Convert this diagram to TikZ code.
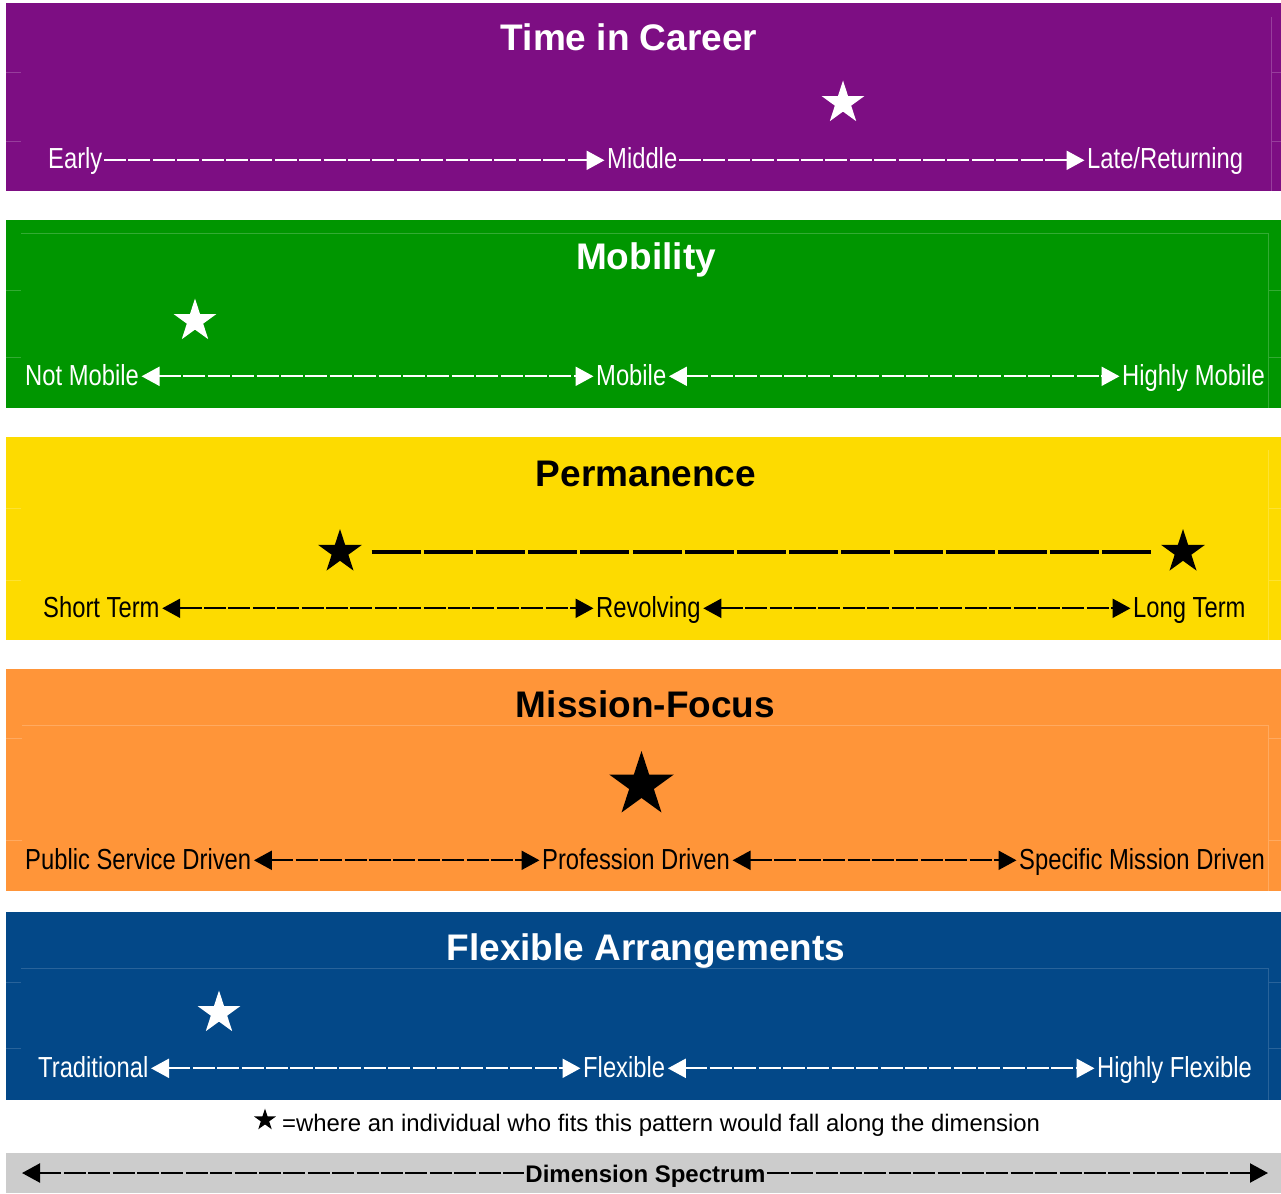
\documentclass[tikz,border=0pt]{standalone}
\usepackage{fontspec}
\setmainfont{Liberation Sans}
\newfontfamily\narrowfont[FakeStretch=0.82]{Liberation Sans}
\usetikzlibrary{shapes.geometric,arrows.meta}
\definecolor{cpurple}{RGB}{125,14,131}
\definecolor{cgreen}{RGB}{0,150,0}
\definecolor{cyellow}{RGB}{253,219,0}
\definecolor{corange}{RGB}{255,149,57}
\definecolor{cblue}{RGB}{3,72,136}
\definecolor{cgrey}{RGB}{204,204,204}
\begin{document}
\begin{tikzpicture}[x=1pt,y=-1pt,
  >={Triangle[length=18pt,width=19pt]},
  bandtitle/.style={font=\bfseries\fontsize{37}{37}\selectfont, inner sep=0pt, anchor=base},
  lbl/.style={font=\narrowfont\fontsize{29}{29}\selectfont, inner sep=0pt, anchor=base west, text height=22pt, text depth=4.6pt},
  dimline/.style={line width=2.2pt, dash pattern=on 22pt off 2.4pt, shorten <=1.5pt, shorten >=2.5pt},
  starmark/.style={star, star points=5, star point ratio=2.618, inner sep=0pt, draw=none},
  faint/.style={line width=0.8pt}
]
\useasboundingbox (0,0) rectangle (1281,1193);

% ---------- bands ----------
\fill[cpurple] (6,3) rectangle (1281,191);
\fill[cgreen]  (6,220) rectangle (1281,408);
\fill[cyellow] (6,437) rectangle (1281,640);
\fill[corange] (6,669) rectangle (1281,891);
\fill[cblue]   (6,912) rectangle (1281,1100);
\fill[cgrey]   (6,1153) rectangle (1281,1193);

% ---------- faint table lines ----------
\begin{scope}[faint]
\draw[cpurple!80!white] (6,72) -- (21,72) (6,141) -- (21,141) (1271,17) -- (1271,191) (1271,72) -- (1281,72) (1271,141) -- (1281,141);
\draw[cgreen!80!white] (21,233) -- (1268,233) (6,290) -- (21,290) (6,357) -- (21,357) (1268,233) -- (1268,408) (1268,290) -- (1281,290) (1268,357) -- (1281,357);
\draw[cyellow!80!white] (6,508) -- (21,508) (6,580) -- (21,580) (1268,450) -- (1268,640) (1268,508) -- (1281,508) (1268,580) -- (1281,580);
\draw[corange!80!white] (22,725) -- (1268,725) (6,738) -- (22,738) (6,840) -- (22,840) (1268,725) -- (1268,891) (1268,738) -- (1281,738) (1268,840) -- (1281,840);
\draw[cblue!85!white] (21,968) -- (1268,968) (6,982) -- (21,982) (6,1048) -- (21,1048) (1268,968) -- (1268,1100) (1268,982) -- (1281,982) (1268,1048) -- (1281,1048);
\end{scope}

% ---------- Time in Career ----------
\node[bandtitle, text=white] (t1) at (629,51) {Time in Career};
\node[starmark, fill=white, minimum size=45pt] (s1) at (843,103) {};
\node[lbl, text=white] (early) at (48,169) {Early};
\node[lbl, text=white] (middle) at (607,169) {Middle};
\node[lbl, text=white] (late) at (1087,169) {Late/Returning};
\draw[dimline, white, ->] (early.east) -- (middle.west);
\draw[dimline, white, ->] (middle.east) -- (late.west);

% ---------- Mobility ----------
\node[bandtitle, text=white] (t2) at (646,269) {Mobility};
\node[starmark, fill=white, minimum size=45pt] (s2) at (195,321) {};
\node[lbl, text=white] (notmob) at (25,385) {Not Mobile};
\node[lbl, text=white] (mob) at (596,385) {Mobile};
\node[lbl, text=white] (highmob) at (1122,385) {Highly Mobile};
\draw[dimline, white, <->, shorten <=2.5pt] (notmob.east) -- (mob.west);
\draw[dimline, white, <->, shorten <=2.5pt] (mob.east) -- (highmob.west);

% ---------- Permanence ----------
\node[bandtitle, text=black] (t3) at (646,486) {Permanence};
\node[starmark, fill=black, minimum size=46pt] (s3a) at (340,552) {};
\node[starmark, fill=black, minimum size=46pt] (s3b) at (1183,552) {};
\path (s3a.center) ++(31.5,0) coordinate (h1);
\path (s3b.center) ++(-31.5,0) coordinate (h2);
\draw[line width=4pt, dash pattern=on 49pt off 3.2pt] (h1) -- (h2);
\node[lbl, text=black] (short) at (43,617) {Short Term};
\node[lbl, text=black] (revolv) at (596,617) {Revolving};
\node[lbl, text=black] (longt) at (1133,617) {Long Term};
\draw[dimline, black, <->, shorten <=2.5pt] (short.east) -- (revolv.west);
\draw[dimline, black, <->, shorten <=2.5pt] (revolv.east) -- (longt.west);

% ---------- Mission-Focus ----------
\node[bandtitle, text=black] (t4) at (645.5,717) {Mission-Focus};
\node[starmark, fill=black, minimum size=68pt] (s4) at (641.5,785) {};
\node[lbl, text=black] (public) at (25,869) {Public Service Driven};
\node[lbl, text=black] (prof) at (542,869) {Profession Driven};
\node[lbl, text=black] (specific) at (1019,869) {Specific Mission Driven};
\draw[dimline, black, <->, shorten <=2.5pt] (public.east) -- (prof.west);
\draw[dimline, black, <->, shorten <=2.5pt] (prof.east) -- (specific.west);

% ---------- Flexible Arrangements ----------
\node[bandtitle, text=white] (t5) at (646,960) {Flexible Arrangements};
\node[starmark, fill=white, minimum size=45pt] (s5) at (219,1013) {};
\node[lbl, text=white] (trad) at (38,1077) {Traditional};
\node[lbl, text=white] (flex) at (583,1077) {Flexible};
\node[lbl, text=white] (highflex) at (1097,1077) {Highly Flexible};
\draw[dimline, white, <->, shorten <=2.5pt] (trad.east) -- (flex.west);
\draw[dimline, white, <->, shorten <=2.5pt] (flex.east) -- (highflex.west);

% ---------- legend ----------
\node[starmark, fill=black, minimum size=23pt] (legstar) at (265,1120) {};
\node[font=\fontsize{23.9}{23.9}\selectfont, inner sep=0pt, anchor=base west] (legtext) at (282,1131) {=where an individual who fits this pattern would fall along the dimension};

% ---------- spectrum bar ----------
\node[font=\bfseries\fontsize{24}{24}\selectfont, inner sep=0pt, anchor=base, text height=19pt, text depth=1pt] (dims) at (645.5,1182) {Dimension Spectrum};
\coordinate (specL) at (22,1173);
\coordinate (specR) at (1268,1173);
\draw[dimline, black, <-, shorten <=0pt, shorten >=1pt] (specL) -- (dims.west);
\draw[dimline, black, ->, shorten >=0pt, shorten <=1pt] (dims.east) -- (specR);
\end{tikzpicture}
\end{document}
